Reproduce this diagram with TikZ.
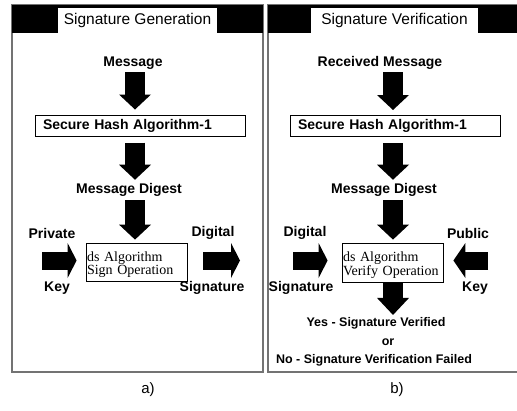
\documentclass[tikz,border=0pt]{standalone}
\usepackage{fontspec}
\setmainfont{Liberation Serif}
\setsansfont{Liberation Sans}
\usetikzlibrary{arrows.meta}

\begin{document}
\begin{tikzpicture}[x=1pt,y=-1pt,
  frame/.style={draw=black!55,line width=1.5pt},
  lbl/.style={font=\sffamily\bfseries\fontsize{14}{16}\selectfont,inner sep=1pt},
  small/.style={font=\sffamily\bfseries\fontsize{12.5}{14}\selectfont,inner sep=1pt},
  titlebox/.style={fill=white,minimum height=25pt,inner sep=0pt,font=\sffamily\fontsize{15.5}{18}\selectfont},
  hashbox/.style={draw,line width=1pt,minimum height=21pt,text width=194pt,inner xsep=8pt,inner ysep=2pt,align=left,font=\sffamily\bfseries\fontsize{14}{16}\selectfont},
  opbox/.style={draw,line width=0.8pt,minimum height=38pt,text width=99pt,inner sep=1pt,align=left,font=\fontsize{14}{12}\selectfont},
  bigdown/.style={line width=20pt,-{Triangle[length=15pt,width=32pt,line width=0pt]}},
  side/.style={line width=18pt,-{Triangle[length=9pt,width=35pt,line width=0pt]}},
  capt/.style={font=\sffamily\fontsize{15}{18}\selectfont}]
\useasboundingbox (0,0) rectangle (517,410);

% a) signature generation
\draw[frame] (12,5) rectangle (263,372);
\fill (12,5) rectangle (263,33);
\node[titlebox,minimum width=159pt] (titleA) at (137.5,20.5) {Signature Generation};
\coordinate (colA) at (135,0);
\node[lbl] (msgA) at (133,63) {Message};
\node[hashbox] (shaA) at (140,125.5) {Secure Hash Algorithm-1};
\node[lbl] (digA) at (129,190) {Message Digest};
\node[opbox] (signA) at (136.5,262) {\rule{0pt}{15pt}ds Algorithm\\Sign Operation};
\draw[bigdown,shorten <=1.5pt,shorten >=5pt] (colA |- msgA.south) -- (colA |- shaA.north);
\draw[bigdown,shorten <=6pt,shorten >=2.5pt] (colA |- shaA.south) -- (colA |- digA.north);
\draw[bigdown,shorten <=2.5pt,shorten >=3pt] (colA |- digA.south) -- (colA |- signA.north);
\node[lbl] (privA) at (52,233) {Private};
\node[lbl] (keyA) at (57,288) {Key};
\coordinate (keyinA) at (42,260.5);
\draw[side,shorten >=9pt] (keyinA) -- (signA.west |- keyinA);
\node[lbl] (digitalA) at (213,233) {Digital};
\node[lbl] (sigA) at (212,288) {Signature};
\coordinate (sigoutA) at (240,260.5);
\draw[side,shorten <=16pt] (signA.east |- sigoutA) -- (sigoutA);
\node[capt] (capA) at (148,390) {a)};

% b) signature verification
\draw[frame] (268,5) rectangle (520,372);
\fill (268,5) rectangle (520,33);
\node[titlebox,minimum width=167pt] (titleB) at (394.5,20.5) {Signature Verification};
\coordinate (colB) at (393,0);
\node[lbl] (msgB) at (380,63) {Received Message};
\node[hashbox] (shaB) at (395,126) {Secure Hash Algorithm-1};
\node[lbl] (digB) at (384,190) {Message Digest};
\node[opbox,minimum height=39pt] (verB) at (392.5,262.5) {\rule{0pt}{15pt}ds Algorithm\\Verify Operation};
\draw[bigdown,shorten <=1.5pt,shorten >=5pt] (colB |- msgB.south) -- (colB |- shaB.north);
\draw[bigdown,shorten <=6pt,shorten >=2.5pt] (colB |- shaB.south) -- (colB |- digB.north);
\draw[bigdown,shorten <=2.5pt,shorten >=3pt] (colB |- digB.south) -- (colB |- verB.north);
\node[lbl] (digitalB) at (305,233) {Digital};
\node[lbl] (sigB) at (301,288) {Signature};
\coordinate (siginB) at (293,260.5);
\draw[side,shorten >=14pt] (siginB) -- (verB.west |- siginB);
\node[lbl] (pubB) at (468,233) {Public};
\node[lbl] (keyB) at (475,288) {Key};
\coordinate (keyinB) at (488,260.5);
\draw[side,-{Triangle[length=12pt,width=35pt,line width=0pt]},shorten >=10pt] (keyinB) -- (verB.east |- keyinB);
\node[small] (yesB) at (376,323) {Yes - Signature Verified};
\node[small] (orB) at (388,342) {or};
\node[small] (noB) at (374,360) {No - Signature Verification Failed};
\draw[bigdown,-{Triangle[length=17pt,width=32pt,line width=0pt]},shorten >=1pt] (colB |- verB.south) -- (colB |- yesB.north);
\node[capt] (capB) at (397,390) {b)};
\end{tikzpicture}
\end{document}
